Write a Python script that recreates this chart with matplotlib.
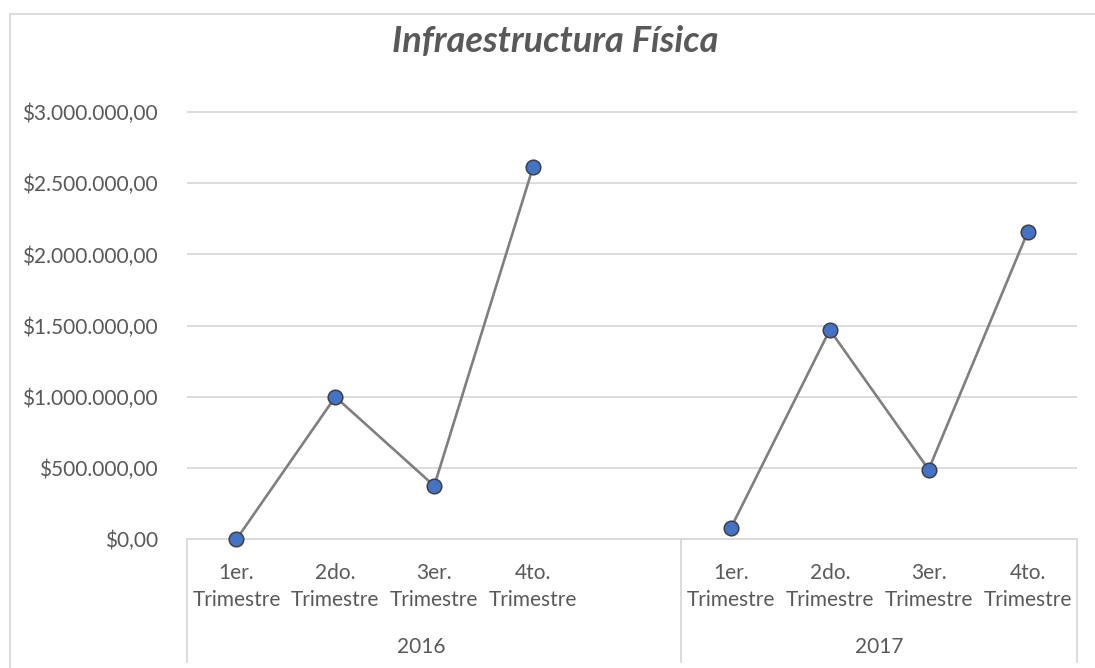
import numpy as np
import matplotlib
matplotlib.use("Agg")
import matplotlib.pyplot as plt
from matplotlib.lines import Line2D
from matplotlib.ticker import FuncFormatter

# ----------------------------
# Data
# ----------------------------
TITLE = "Infraestructura Física"
YEARS = ["2016", "2017"]
QUARTERS = ["1er.\nTrimestre", "2do.\nTrimestre", "3er.\nTrimestre", "4to.\nTrimestre"]
VALUES_2016 = [0, 1000000, 375000, 2615000]
VALUES_2017 = [80000, 1470000, 490000, 2155000]
Y_TICKS = [0, 500000, 1000000, 1500000, 2000000, 2500000, 3000000]

# ----------------------------
# Style
# ----------------------------
TEXT = "#595959"
GRID = "#d9d9d9"
LINE = "#7f7f7f"
MARKER = "#4472c4"
FONT = ["Lato", "DejaVu Sans"]

W, H = 1095, 668
plt.rcParams["font.family"] = FONT


def money(v, _pos=None):
    s = f"{v:,.2f}"
    s = s.replace(",", "X").replace(".", ",").replace("X", ".")
    return "$" + s


# category slots: 4 quarters, one blank slot, 4 quarters
x_2016 = np.arange(len(VALUES_2016))
x_2017 = np.arange(len(VALUES_2017)) + len(VALUES_2016) + 1
xs = np.concatenate([x_2016, [len(VALUES_2016)], x_2017])
ys = np.concatenate([VALUES_2016, [np.nan], VALUES_2017])

fig = plt.figure(figsize=(W / 100, H / 100), dpi=100)

# plot area in pixels
left, right, bottom_px, top_px = 187, 1077, 539.3, 100
ax = fig.add_axes([left / W, 1 - bottom_px / H, (right - left) / W, (bottom_px - top_px) / H])
px_per_val = (539.3 - 112) / 3000000
ax.set_ylim(0, 3000000 + (112 - top_px) / px_per_val)
ax.set_xlim(-0.5, len(xs) - 0.5)

ax.plot(xs, ys, color=LINE, lw=1.9, marker="o", markersize=10.5,
        markerfacecolor=MARKER, markeredgecolor="#404040", markeredgewidth=1.1,
        zorder=5, clip_on=False)

ax.set_yticks(Y_TICKS)
ax.yaxis.set_major_formatter(FuncFormatter(money))
ax.tick_params(axis="y", length=0, pad=21, labelsize=15, labelcolor=TEXT)
ax.set_xticks([])
ax.grid(axis="y", color=GRID, lw=1.3)
ax.set_axisbelow(True)
for side in ["top", "right", "left"]:
    ax.spines[side].set_visible(False)
ax.spines["bottom"].set_color(GRID)
ax.spines["bottom"].set_linewidth(1.3)

# multi-level category labels
ax_h = bottom_px - top_px
tr = ax.get_xaxis_transform()


def ypos(px):
    return -(px - bottom_px) / ax_h


for x, lab in zip(np.concatenate([x_2016, x_2017]), QUARTERS + QUARTERS):
    top, bot = lab.split("\n")
    ax.text(x, ypos(573), top, transform=tr, ha="center", va="center",
            fontsize=15, color=TEXT, clip_on=False)
    ax.text(x, ypos(600), bot, transform=tr, ha="center", va="center",
            fontsize=15, color=TEXT, clip_on=False)

ax.text(1.87, ypos(647), YEARS[0], transform=tr, ha="center", va="center",
        fontsize=15, color=TEXT)
ax.text((x_2017[0] + x_2017[-1]) / 2, ypos(647), YEARS[1], transform=tr,
        ha="center", va="center", fontsize=15, color=TEXT)

for xb in [-0.5, len(VALUES_2016) + 0.5, len(xs) - 0.5]:
    ax.add_line(Line2D([xb, xb], [0, ypos(662)], transform=tr, color=GRID,
                       lw=1.3, clip_on=False))

# title
fig.text(555 / W, 1 - 41 / H, TITLE, ha="center", va="center", fontsize=26,
         fontweight="bold", fontstyle="italic", color=TEXT)

# chart border
fig.add_artist(Line2D([9.5 / W, 9.5 / W], [0, 1 - 13.5 / H], color=GRID, lw=1.3))
fig.add_artist(Line2D([9.5 / W, 1], [1 - 13.5 / H, 1 - 13.5 / H], color=GRID, lw=1.3))

fig.savefig("out.png", dpi=100)
